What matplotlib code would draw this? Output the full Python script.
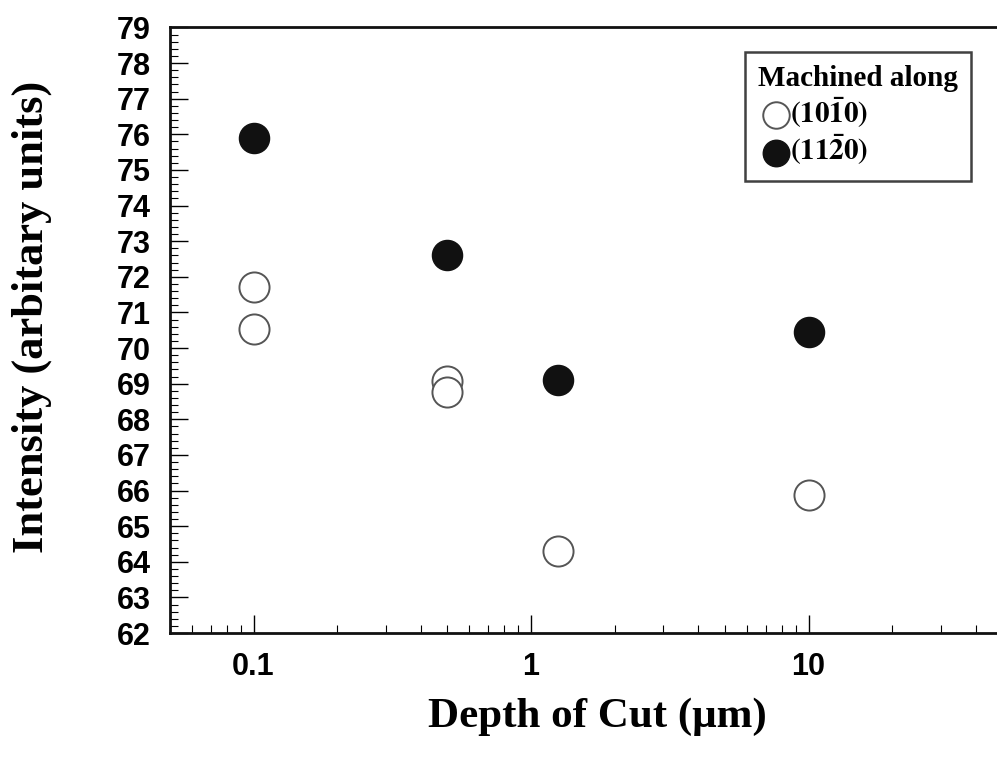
import matplotlib.pyplot as plt
from matplotlib.ticker import MultipleLocator, LogLocator, NullFormatter

plt.rcParams['mathtext.fontset'] = 'stix'

# données
depth_1010 = [0.1, 0.1, 0.5, 0.5, 1.25, 10]
inten_1010 = [71.71, 70.53, 69.07, 68.76, 64.30, 65.87]
depth_1120 = [0.1, 0.5, 1.25, 10]
inten_1120 = [75.90, 72.61, 69.10, 70.45]
xticks = [0.1, 1, 10]
xtick_labels = ['0.1', '1', '10']

fig = plt.figure(figsize=(9.97, 7.59), dpi=100)
ax = fig.add_axes([0.1705, 0.166, 0.835, 0.7978])

ax.scatter(depth_1010, inten_1010, s=470, facecolors='white', edgecolors='#555555',
           linewidths=1.4, label=r'$\mathbf{(10\bar{1}0)}$', zorder=3)
ax.scatter(depth_1120, inten_1120, s=470, facecolors='#111111', edgecolors='#111111',
           linewidths=1.0, label=r'$\mathbf{(11\bar{2}0)}$', zorder=3)

ax.set_xscale('log')
ax.set_xlim(0.05, 50)
ax.set_ylim(62, 79)

ax.set_xticks(xticks)
ax.set_xticklabels(xtick_labels)
ax.xaxis.set_minor_locator(LogLocator(base=10, subs=range(2, 10)))
ax.xaxis.set_minor_formatter(NullFormatter())
ax.yaxis.set_major_locator(MultipleLocator(1))
ax.yaxis.set_minor_locator(MultipleLocator(0.2))

ax.tick_params(which='both', direction='in', top=False, right=False)
ax.tick_params(which='major', length=13, width=1.0, labelsize=22, pad=14)
ax.tick_params(which='minor', length=5.5, width=0.8)
for lab in ax.get_xticklabels() + ax.get_yticklabels():
    lab.set_fontfamily('Liberation Sans')
    lab.set_fontweight('bold')

for sp in ax.spines.values():
    sp.set_linewidth(2.0)
    sp.set_color('#111111')

ax.set_xlabel('Depth of Cut (μm)', fontfamily='Liberation Serif', fontweight='bold',
              fontsize=31)
ax.set_ylabel('Intensity (arbitary units)', fontfamily='Liberation Serif', fontweight='bold',
              fontsize=32)
ax.xaxis.set_label_coords(0.513, -0.106)
ax.yaxis.set_label_coords(-0.142, 0.522)

leg = ax.legend(title='Machined along', loc='upper left',
                bbox_to_anchor=(745 / 997, 1 - 52 / 759), bbox_transform=fig.transFigure,
                borderaxespad=0, fancybox=False, frameon=True, edgecolor='#111111',
                fontsize=21, handletextpad=-0.1, handlelength=1.2, markerscale=0.88,
                borderpad=0.45, labelspacing=0.1, alignment='left',
                title_fontproperties={'family': 'Liberation Serif', 'weight': 'bold', 'size': 21})
leg.get_frame().set_linewidth(1.8)

fig.savefig('out.png', dpi=100)
